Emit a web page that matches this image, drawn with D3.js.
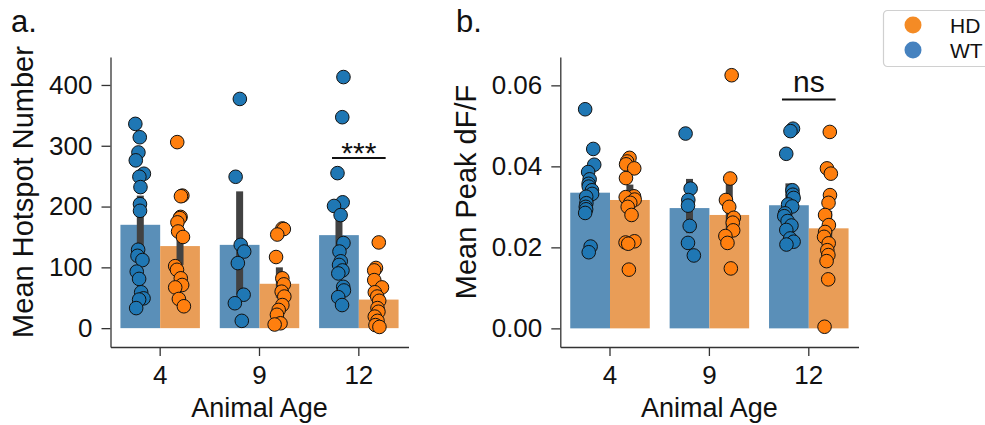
<!DOCTYPE html>
<html>
<head>
<meta charset="utf-8">
<script src="https://cdn.jsdelivr.net/npm/d3@7"></script>
<style>
  body { margin: 0; background: #fff; }
  svg { display: block; font-family: "Liberation Sans", Arial, sans-serif; }
</style>
</head>
<body>
<svg id="chart" width="985" height="425"></svg>
<script>
// categories
var ages = ['4', '9', '12'];
var genotypes = ['WT', 'HD'];

// panel a: mean hotspot number, one list per age
var hotspotWT = [
	[336, 314, 289, 276, 254, 249, 232, 204, 193, 129, 119, 112, 93, 81, 59, 49, 47, 33],
	[377, 249, 137, 126, 107, 55, 41, 12],
	[413, 347, 255, 207, 201, 186, 140, 126, 110, 104, 95, 90, 68, 62, 51, 38]
];
var hotspotHD = [
	[306, 218, 217, 183, 181, 174, 159, 150, 102, 96, 82, 71, 67, 48, 36],
	[164, 163, 154, 117, 82, 72, 60, 52, 38, 30, 22, 8, 6],
	[141, 99, 95, 79, 67, 59, 52, 45, 33, 27, 19, 12, 5, 2]
];
var hotspotMeanWT = [170, 137, 153];
var hotspotMeanHD = [135, 73, 47];
var hotspotCiWT = [[128, 218], [55, 225], [108, 200]];
var hotspotCiHD = [[104, 172], [50, 100], [30, 65]];

// panel b: mean peak dF/F
var peakWT = [
	[0.0541, 0.0443, 0.0404, 0.0386, 0.0368, 0.0357, 0.0350, 0.0341, 0.0332, 0.0325, 0.0309, 0.0300, 0.0294, 0.0285, 0.0202, 0.0188],
	[0.0481, 0.0345, 0.0317, 0.0303, 0.0253, 0.0211, 0.0180],
	[0.0493, 0.0487, 0.0431, 0.0341, 0.0330, 0.0322, 0.0306, 0.0301, 0.0284, 0.0277, 0.0265, 0.0254, 0.0243, 0.0222, 0.0214, 0.0207]
];
var peakHD = [
	[0.0421, 0.0412, 0.0405, 0.0395, 0.0371, 0.0326, 0.0324, 0.0318, 0.0310, 0.0300, 0.0280, 0.0215, 0.0212, 0.0209, 0.0145],
	[0.0625, 0.0370, 0.0317, 0.0300, 0.0273, 0.0261, 0.0242, 0.0228, 0.0211, 0.0148],
	[0.0485, 0.0395, 0.0382, 0.0329, 0.0310, 0.0280, 0.0255, 0.0238, 0.0226, 0.0210, 0.0193, 0.0181, 0.0166, 0.0121, 0.0004]
];
var peakMeanWT = [0.0335, 0.0297, 0.0304];
var peakMeanHD = [0.0317, 0.0280, 0.0247];
var peakCiWT = [[0.0312, 0.0360], [0.0235, 0.0369], [0.0262, 0.0358]];
var peakCiHD = [[0.0282, 0.0355], [0.0225, 0.0366], [0.0200, 0.0290]];

var hotspotTicks = [0, 100, 200, 300, 400];
var peakTicks = [0, 0.02, 0.04, 0.06];

var colors = {
	bar: {WT: '#5a8fb8', HD: '#e99d57'},
	dot: {WT: '#1f77b4', HD: '#ff7f0e'},
	legend: {WT: '#4682bf', HD: '#f48b25'}
};

var svg = d3.select('#chart');

// small seeded generator so the strip jitter is the same every run
function seeded(seed)
{
	var s = seed;
	return function() {
		s = (s * 16807) % 2147483647;
		return (s - 1) / 2147483646;
	};
}

function drawPanel(cfg)
{
	var x = d3.scaleBand().domain(ages).range(cfg.xRange);
	var y = d3.scaleLinear().domain(cfg.yDomain).range([347, 57]);
	var bw = x.bandwidth();
	var g = svg.append('g');

	var hueOffset = {WT: -0.2 * bw, HD: 0.2 * bw};

	var groups = [];
	ages.forEach(function(age, i) {
		genotypes.forEach(function(gt) {
			groups.push({
				age: age,
				gt: gt,
				mean: cfg.means[gt][i],
				ci: cfg.ci[gt][i],
				points: cfg.points[gt][i]
			});
		});
	});

	// bars
	g.selectAll('rect.bar').data(groups).enter()
		.append('rect')
		.attr('class', 'bar')
		.attr('x', function(d) { return x(d.age) + bw / 2 + hueOffset[d.gt] - 0.2 * bw; })
		.attr('width', 0.4 * bw)
		.attr('y', function(d) { return y(d.mean); })
		.attr('height', function(d) { return y(0) - y(d.mean); })
		.attr('fill', function(d) { return colors.bar[d.gt]; });

	// error bars
	g.selectAll('line.err').data(groups).enter()
		.append('line')
		.attr('class', 'err')
		.attr('x1', function(d) { return x(d.age) + bw / 2 + hueOffset[d.gt]; })
		.attr('x2', function(d) { return x(d.age) + bw / 2 + hueOffset[d.gt]; })
		.attr('y1', function(d) { return y(d.ci[0]); })
		.attr('y2', function(d) { return y(d.ci[1]); })
		.attr('stroke', '#424242')
		.attr('stroke-width', 7);

	// strip points
	var rand = seeded(cfg.seed);
	var dots = [];
	groups.forEach(function(grp) {
		grp.points.forEach(function(v) {
			dots.push({age: grp.age, gt: grp.gt, v: v, j: (rand() - 0.5) * 0.1 * bw});
		});
	});

	g.selectAll('circle.dot').data(dots).enter()
		.append('circle')
		.attr('class', 'dot')
		.attr('cx', function(d) { return x(d.age) + bw / 2 + hueOffset[d.gt] + d.j; })
		.attr('cy', function(d) { return y(d.v); })
		.attr('r', 6.8)
		.attr('fill', function(d) { return colors.dot[d.gt]; })
		.attr('stroke', '#111')
		.attr('stroke-width', 1);

	// axes
	var yAxis = d3.axisLeft(y).tickValues(cfg.ticks).tickFormat(cfg.format)
		.tickSizeOuter(0).tickSizeInner(9).tickPadding(9);
	var xAxis = d3.axisBottom(x).tickSizeOuter(0).tickSizeInner(9).tickPadding(8);

	var ya = g.append('g')
		.attr('transform', 'translate(' + cfg.xRange[0] + ',0)')
		.call(yAxis);
	var xa = g.append('g')
		.attr('transform', 'translate(0,347)')
		.call(xAxis);

	[ya, xa].forEach(function(a) {
		a.select('.domain').attr('stroke', '#333').attr('stroke-width', 1.3);
		a.selectAll('.tick line').attr('stroke', '#333').attr('stroke-width', 1.3);
		a.selectAll('.tick text').attr('fill', '#111').attr('font-size', 26)
			.attr('font-family', '"Liberation Sans", Arial, sans-serif');
	});
	xa.selectAll('.tick text').attr('dy', '0.76em');

	// axis titles
	g.append('text')
		.attr('x', (cfg.xRange[0] + cfg.xRange[1]) / 2)
		.attr('y', 417)
		.attr('text-anchor', 'middle')
		.attr('font-size', 27)
		.attr('fill', '#111')
		.text('Animal Age');

	g.append('text')
		.attr('transform', 'translate(' + cfg.yLabelX + ',192) rotate(-90)')
		.attr('text-anchor', 'middle')
		.attr('font-size', 29)
		.attr('fill', '#111')
		.text(cfg.yLabel);

	g.append('text')
		.attr('x', cfg.letterX)
		.attr('y', 32)
		.attr('font-size', 31)
		.attr('fill', '#111')
		.text(cfg.letter);

	// significance bracket over the last age
	var cx = x('12') + bw / 2;
	g.append('line')
		.attr('x1', cx - 0.27 * bw)
		.attr('x2', cx + 0.27 * bw)
		.attr('y1', y(cfg.sig.at))
		.attr('y2', y(cfg.sig.at))
		.attr('stroke', '#111')
		.attr('stroke-width', 2);

	g.append('text')
		.attr('x', cx)
		.attr('y', y(cfg.sig.at) + cfg.sig.dy)
		.attr('text-anchor', 'middle')
		.attr('font-size', cfg.sig.size)
		.attr('fill', '#111')
		.text(cfg.sig.label);
}

drawPanel({
	xRange: [110.5, 408.5],
	yDomain: [-31, 446],
	ticks: hotspotTicks,
	format: d3.format('d'),
	means: {WT: hotspotMeanWT, HD: hotspotMeanHD},
	ci: {WT: hotspotCiWT, HD: hotspotCiHD},
	points: {WT: hotspotWT, HD: hotspotHD},
	yLabel: 'Mean Hotspot Number',
	yLabelX: 33,
	letter: 'a.',
	letterX: 11,
	seed: 11,
	sig: {at: 280, label: '***', size: 30, dy: 5}
});

drawPanel({
	xRange: [560.3, 858.5],
	yDomain: [-0.0046, 0.067],
	ticks: peakTicks,
	format: d3.format('.2f'),
	means: {WT: peakMeanWT, HD: peakMeanHD},
	ci: {WT: peakCiWT, HD: peakCiHD},
	points: {WT: peakWT, HD: peakHD},
	yLabel: 'Mean Peak dF/F',
	yLabelX: 476,
	letter: 'b.',
	letterX: 456,
	seed: 29,
	sig: {at: 0.0565, label: 'ns', size: 30, dy: -8}
});

// legend
var legend = svg.append('g').attr('transform', 'translate(883,10)');
legend.append('rect')
	.attr('x', 0.5).attr('y', 0.5)
	.attr('width', 130).attr('height', 56)
	.attr('rx', 4)
	.attr('fill', '#fff')
	.attr('stroke', '#d0d0d0')
	.attr('stroke-width', 1.2);

['HD', 'WT'].forEach(function(gt, i) {
	legend.append('circle')
		.attr('cx', 30).attr('cy', 15 + i * 25)
		.attr('r', 8.5)
		.attr('fill', colors.legend[gt]);
	legend.append('text')
		.attr('x', 67).attr('y', 15 + i * 25 + 7.5)
		.attr('font-size', 21)
		.attr('fill', '#111')
		.text(gt);
});
</script>
</body>
</html>
